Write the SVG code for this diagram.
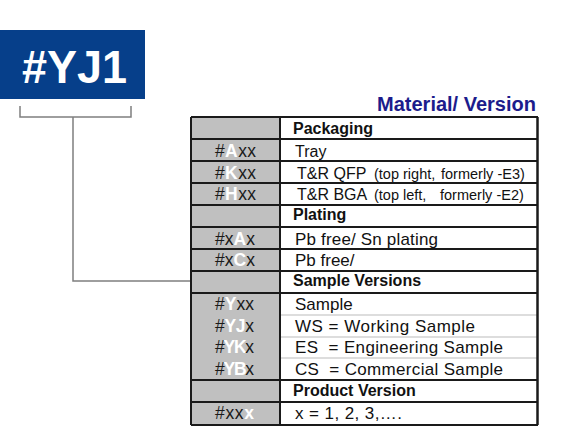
<svg xmlns="http://www.w3.org/2000/svg" width="565" height="428" viewBox="0 0 565 428">
<style>
text{font-family:"Liberation Sans",Arial,sans-serif;fill:#111}
.hd{font-weight:bold;font-size:16px}
.row{font-size:16px}
.big{font-size:17px}
.sm{font-size:14.5px}
.code{font-size:17.5px;fill:#1a1a1a}
.key{font-weight:bold;fill:#fff}
.thick{stroke:#1a1a1a;stroke-width:2;fill:none}
.thin{stroke:#d2d2d2;stroke-width:1.5;fill:none}
.conn{stroke:#7f7f7f;stroke-width:1.5;fill:none}
</style>
<rect width="565" height="428" fill="#fff"/>
<g id="code-box">
<rect x="0" y="30" width="145" height="69" fill="#063f8a"/>
<text x="22" y="83" style="font-size:46px;font-weight:bold;fill:#fff" textLength="105" lengthAdjust="spacingAndGlyphs">#YJ1</text>
</g>
<g id="connectors">
<path class="conn" d="M20 106 V117 H131 V106"/>
<path class="conn" d="M73 117 V281 H191"/>
</g>
<g id="title">
<text x="536" y="111" text-anchor="end" style="font-size:20px;font-weight:bold;fill:#1c1c8c">Material/ Version</text>
</g>
<g id="table">
<rect x="191" y="117" width="89" height="308" fill="#c0c0c0"/>
<rect x="280" y="117" width="258" height="308" fill="#fff"/>
<g id="table-lines">
<path class="thin" d="M281 315 H537 M281 337 H537 M281 358 H537"/>
<path class="thick" d="M191 117 H538 M191 139 H538 M191 161 H538 M191 183 H538 M191 205 H538 M191 227 H538 M191 249 H538 M191 271 H538 M191 293 H538 M191 380 H538 M191 402 H538 M191 425 H538"/>
<path class="thick" d="M191 117 V425 M280 117 V425"/>
<path class="thick" style="stroke-width:2.5" d="M537.5 117 V425"/>
</g>
<g id="packaging">
<text class="hd" x="293" y="134">Packaging</text>
<text class="code" x="215" y="157" textLength="41" lengthAdjust="spacing">#<tspan class="key">A</tspan>xx</text>
<text class="row" x="295" y="157">Tray</text>
<text class="code" x="215" y="178.5" textLength="41" lengthAdjust="spacing">#<tspan class="key">K</tspan>xx</text>
<text class="row" x="297" y="178.5">T&amp;R QFP <tspan class="sm" x="374">(top right,</tspan><tspan class="sm" x="441">formerly -E3)</tspan></text>
<text class="code" x="215" y="200" textLength="41" lengthAdjust="spacing">#<tspan class="key">H</tspan>xx</text>
<text class="row" x="297" y="200">T&amp;R BGA <tspan class="sm" x="374">(top left,</tspan><tspan class="sm" x="440">formerly -E2)</tspan></text>
</g>
<g id="plating">
<text class="hd" x="293" y="220">Plating</text>
<text class="code" x="215" y="244.5" textLength="40" lengthAdjust="spacing">#x<tspan class="key">A</tspan>x</text>
<text class="big" x="295" y="244.5" textLength="143" lengthAdjust="spacing">Pb free/ Sn plating</text>
<text class="code" x="215" y="266" textLength="40" lengthAdjust="spacing">#x<tspan class="key">C</tspan>x</text>
<text class="big" x="295" y="266">Pb free/</text>
</g>
<g id="sample-versions">
<text class="hd" x="293" y="286">Sample Versions</text>
<text class="code" x="215" y="310" textLength="39" lengthAdjust="spacing">#<tspan class="key">Y</tspan>xx</text>
<text class="big" x="295" y="310">Sample</text>
<text class="code" x="215" y="331.5" textLength="39" lengthAdjust="spacing">#<tspan class="key">YJ</tspan>x</text>
<text class="big" x="295" y="331.5" textLength="180" lengthAdjust="spacing">WS = Working Sample</text>
<text class="code" x="215" y="353" textLength="39" lengthAdjust="spacing">#<tspan class="key">YK</tspan>x</text>
<text class="big" x="295" y="353" xml:space="preserve" textLength="208" lengthAdjust="spacing">ES  = Engineering Sample</text>
<text class="code" x="215" y="374.5" textLength="39" lengthAdjust="spacing">#<tspan class="key">YB</tspan>x</text>
<text class="big" x="295" y="374.5" xml:space="preserve" textLength="208" lengthAdjust="spacing">CS  = Commercial Sample</text>
</g>
<g id="product-version">
<text class="hd" x="293" y="396">Product Version</text>
<text class="code" x="215" y="419" textLength="39" lengthAdjust="spacing">#xx<tspan class="key">x</tspan></text>
<text class="big" x="295" y="419" textLength="107" lengthAdjust="spacing">x = 1, 2, 3,….</text>
</g>
</g>
</svg>
